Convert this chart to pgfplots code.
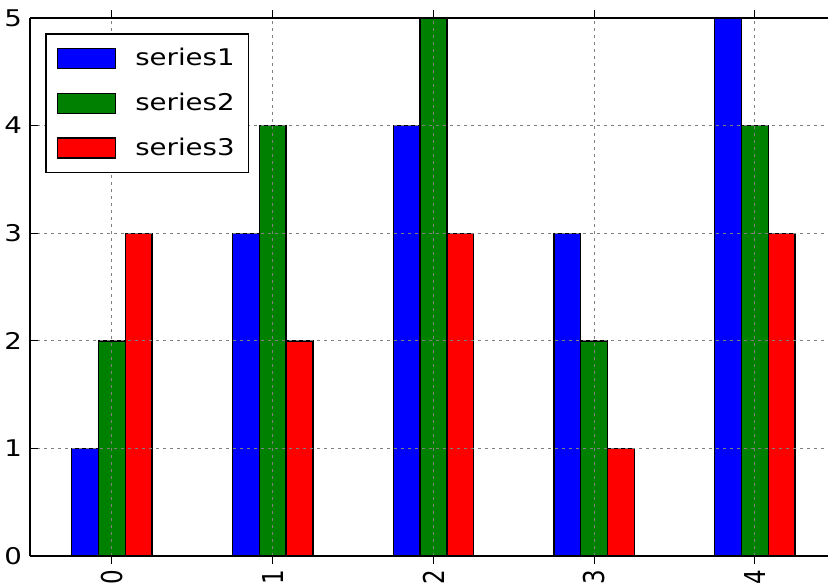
\documentclass[border=0pt]{standalone}
\usepackage{fontspec}
\setmainfont{DejaVu Sans}[FakeStretch=1.2]
\newfontfamily\plainfont{DejaVu Sans}
\usepackage{graphicx}
\usepackage{pgfplots}
\pgfplotsset{compat=1.18}
\begin{document}
\fontsize{11.5pt}{14pt}\selectfont
\begin{tikzpicture}
\begin{axis}[
  scale only axis, width=399pt, height=269pt,
  xmin=-0.51, xmax=4.455, ymin=0, ymax=5,
  axis x line*=box, axis y line*=left,
  axis line style={line width=0.8pt},
  xtick={0,1,2,3,4}, ytick={0,1,2,3,4,5},
  xticklabels={\scalebox{1}[1.25]{0},\scalebox{1}[1.25]{1},\scalebox{1}[1.25]{2},\scalebox{1}[1.25]{3},\scalebox{1}[1.25]{4}},
  /pgf/number format/assume math mode=true,
  tick label style={font=\fontsize{11.5pt}{14pt}\selectfont},
  xticklabel style={font=\plainfont\fontsize{11.5pt}{14pt}\selectfont,
    rotate=90, anchor=east, inner sep=0pt},
  xticklabel shift=2.5pt,
  tick align=inside, major tick length=4pt,
  tick style={black, line width=0.5pt},
  grid=major,
  grid style={gray, dash pattern=on 1.5pt off 2pt, line width=0.5pt},
  axis on top,
  ybar=0pt, bar width=0.1667,
  legend cell align=left,
  legend style={at={(0.019,0.972)}, anchor=north west, draw=black,
    line width=0.8pt, inner xsep=5.5pt, inner ysep=5.5pt,
    nodes={inner sep=1.5pt}, row sep=9pt, column sep=8pt,
    font=\fontsize{11.5pt}{14pt}\selectfont},
  legend image code/.code={\draw[#1, line width=0.7pt] (0pt,-5pt) rectangle (29pt,5pt);},
]
\addplot[fill=blue, draw=black, line width=0.7pt, bar shift=-0.1667]
  coordinates {(0,1) (1,3) (2,4) (3,3) (4,5)};
\addplot[fill={rgb,255:red,0;green,128;blue,0}, draw=black, line width=0.7pt, bar shift=0]
  coordinates {(0,2) (1,4) (2,5) (3,2) (4,4)};
\addplot[fill=red, draw=black, line width=0.7pt, bar shift=0.1667]
  coordinates {(0,3) (1,2) (2,3) (3,1) (4,3)};
\legend{series1,series2,series3}
\end{axis}
\pgfresetboundingbox
\path (current axis.south west) ++(-15pt,-14pt) coordinate (a);
\path (current axis.north east) ++(0pt,9pt) coordinate (b);
\useasboundingbox (a) rectangle (b);
\end{tikzpicture}
\end{document}
